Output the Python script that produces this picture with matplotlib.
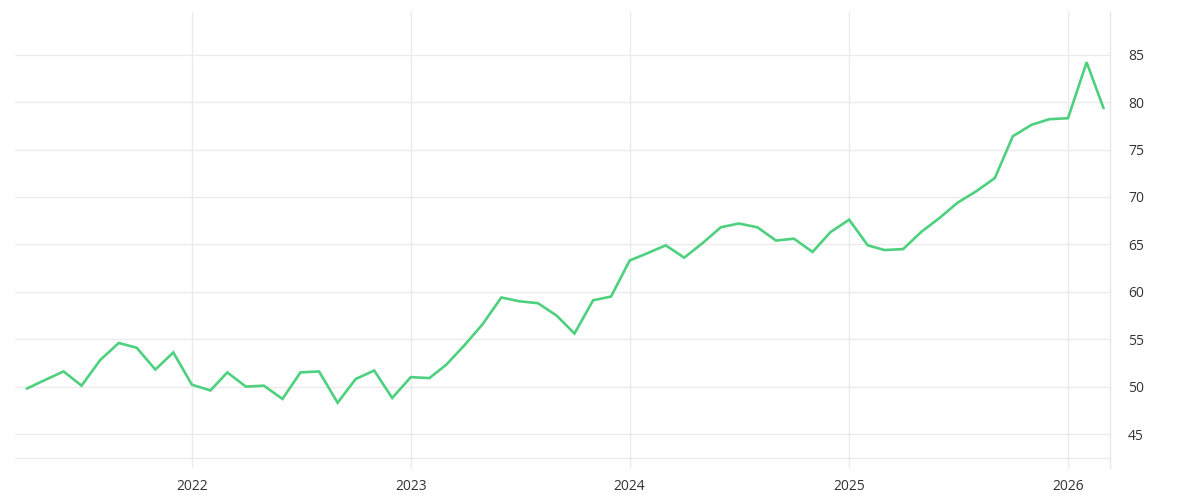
import numpy as np
import matplotlib
matplotlib.use('Agg')
import matplotlib.pyplot as plt
import matplotlib.dates as mdates

# monthly values, 2021-04 .. 2026-03
months = np.arange('2021-04', '2026-04', dtype='datetime64[M]')
values = [
    49.8, 50.7, 51.6, 50.1, 52.8, 54.6, 54.1, 51.8, 53.6,
    50.2, 49.6, 51.5, 50.0, 50.1, 48.7, 51.5, 51.6, 48.3, 50.8, 51.7, 48.8,
    51.0, 50.9, 52.3, 54.4, 56.6, 59.4, 59.0, 58.8, 57.5, 55.6, 59.1, 59.5,
    63.3, 64.1, 64.9, 63.6, 65.1, 66.8, 67.2, 66.8, 65.4, 65.6, 64.2, 66.3,
    67.6, 64.9, 64.4, 64.5, 66.3, 67.8, 69.4, 70.6, 72.0, 76.4, 77.6, 78.2,
    78.3, 84.2, 79.4,
]
ytick_values = [45, 50, 55, 60, 65, 70, 75, 80, 85]
year_ticks = ['2022', '2023', '2024', '2025', '2026']

dates = months.astype('datetime64[D]')

plt.rcParams['font.family'] = ['Open Sans', 'DejaVu Sans']

fig = plt.figure(figsize=(12, 5), dpi=100)
ax = fig.add_axes([0.0125, 0.064, 0.9125, 0.912])

ax.plot(dates, values, color='#4dd17e', linewidth=1.9, solid_joinstyle='miter')

ax.set_xlim(np.datetime64('2021-03-12'), np.datetime64('2026-03-12'))
ax.set_ylim(41.42, 89.5)

ax.set_xticks([np.datetime64(y + '-01-01') for y in year_ticks])
ax.set_xticklabels(year_ticks)
ax.set_yticks(ytick_values)
ax.yaxis.tick_right()

ax.grid(True, color='#ebebeb', linewidth=1)
ax.axhline(42.47, color='#ebebeb', linewidth=1, zorder=0)
ax.set_axisbelow(True)

for side in ['top', 'bottom', 'left']:
    ax.spines[side].set_visible(False)
ax.spines['right'].set_color('#e6e6e6')
ax.spines['right'].set_linewidth(1)

ax.tick_params(axis='both', length=0, labelsize=10, colors='#333333')
ax.tick_params(axis='y', pad=13)
ax.tick_params(axis='x', pad=8)

plt.savefig('out.png', dpi=100)
